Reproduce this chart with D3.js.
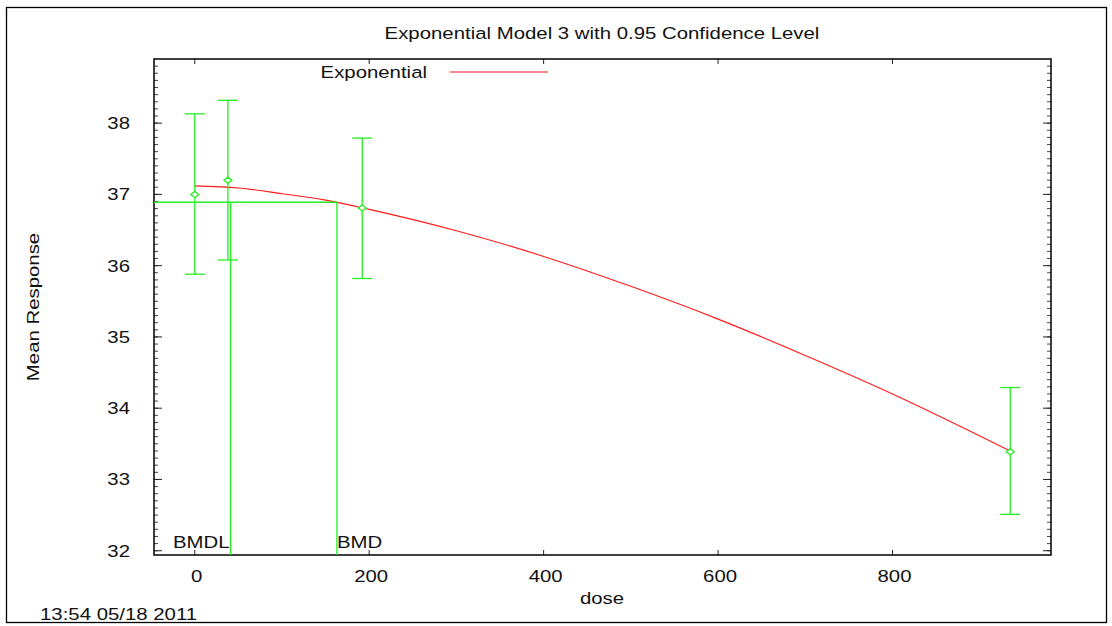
<!DOCTYPE html>
<html>
<head>
<meta charset="utf-8">
<script src="https://cdn.jsdelivr.net/npm/d3@7"></script>
<style>
  body { margin: 0; background: #fff; }
  svg text { font-family: "Liberation Sans", Arial, sans-serif; fill: #111; }
</style>
</head>
<body>
<div id="chart"></div>
<script>
// observed data (dose, mean, lower / upper confidence limits)
const doses = [0, 38, 192, 935];
const means = [37.0, 37.2, 36.81, 33.39];
const lower = [35.88, 36.08, 35.82, 32.51];
const upper = [38.13, 38.32, 37.79, 34.29];

// fitted exponential curve
const curveDose = [0, 50, 100, 150, 200, 300, 400, 500, 600, 700, 800, 935];
const curveMean = [37.12, 37.09, 37.01, 36.92, 36.79, 36.49, 36.13, 35.71, 35.25, 34.74, 34.2, 33.4];

// benchmark dose results
const bmdl = 41;
const bmd = 163;
const bmrLevel = 36.89;

const xTicks = [0, 200, 400, 600, 800];
const yTicks = [32, 33, 34, 35, 36, 37, 38];

const width = 1112, height = 626;
const plot = { left: 154, top: 59, right: 1051, bottom: 555 };
const green = "#22ee22", red = "#ff1a1a";
const stretch = 1.235; // the original text is drawn wide

const svg = d3.select("#chart").append("svg")
    .attr("width", width)
    .attr("height", height);

// text helper: stretched horizontally along the text direction
const label = (px, py, txt, anchor = "start", rot = 0) =>
    svg.append("text")
        .attr("transform", `translate(${px},${py}) rotate(${rot}) scale(${stretch},1)`)
        .attr("text-anchor", anchor)
        .attr("font-size", 16.5)
        .text(txt);

// outer frame
svg.append("rect")
    .attr("x", 6.5).attr("y", 7.5)
    .attr("width", 1100).attr("height", 615)
    .attr("fill", "none").attr("stroke", "#000").attr("stroke-width", 1.3);

const x = d3.scaleLinear().domain([-46.75, 981.75]).range([plot.left, plot.right]);
const y = d3.scaleLinear().domain([31.94, 38.9]).range([plot.bottom, plot.top]);

// minor y ticks every 0.1
const yMinor = d3.range(320, 389).map(d => d / 10);

const tickG = svg.append("g").attr("stroke", "#222").attr("stroke-width", 1);
[plot.left, plot.right].forEach((px, side) => {
    const dir = side === 0 ? 1 : -1;
    tickG.selectAll(null)
        .data(yMinor)
        .join("line")
        .attr("x1", px).attr("x2", px + dir * 4)
        .attr("y1", d => y(d)).attr("y2", d => y(d))
        .attr("stroke", "#444");
    tickG.selectAll(null)
        .data(yTicks)
        .join("line")
        .attr("x1", px).attr("x2", px + dir * 8)
        .attr("y1", d => y(d)).attr("y2", d => y(d));
});
[plot.bottom, plot.top].forEach((py, side) => {
    const dir = side === 0 ? -1 : 1;
    tickG.selectAll(null)
        .data(xTicks)
        .join("line")
        .attr("x1", d => x(d)).attr("x2", d => x(d))
        .attr("y1", py).attr("y2", py + dir * 5);
});

// tick labels
xTicks.forEach(d => label(x(d) + 2, plot.bottom + 27, d3.format("d")(d), "middle"));
yTicks.forEach(d => label(plot.left - 24, y(d) + 6, d3.format("d")(d), "end"));

// plot border
svg.append("rect")
    .attr("x", plot.left).attr("y", plot.top)
    .attr("width", plot.right - plot.left).attr("height", plot.bottom - plot.top)
    .attr("fill", "none").attr("stroke", "#000").attr("stroke-width", 1.5);

// fitted curve
const line = d3.line()
    .x((d, i) => x(curveDose[i]))
    .y(d => y(d))
    .curve(d3.curveMonotoneX);
svg.append("path")
    .datum(curveMean)
    .attr("d", line)
    .attr("fill", "none")
    .attr("stroke", red)
    .attr("stroke-width", 1.1);

// BMD / BMDL lines
const bm = svg.append("g").attr("stroke", green).attr("stroke-width", 1.3);
bm.append("line")
    .attr("x1", plot.left).attr("x2", x(bmd))
    .attr("y1", y(bmrLevel)).attr("y2", y(bmrLevel));
bm.append("line")
    .attr("x1", x(bmd)).attr("x2", x(bmd))
    .attr("y1", y(bmrLevel)).attr("y2", plot.bottom);
bm.append("line")
    .attr("x1", x(bmdl)).attr("x2", x(bmdl))
    .attr("y1", y(bmrLevel)).attr("y2", plot.bottom);

// error bars
const eb = svg.append("g").attr("stroke", green).attr("stroke-width", 1.3).attr("fill", "none");
doses.forEach((d, i) => {
    const cx = x(d);
    eb.append("line").attr("x1", cx).attr("x2", cx).attr("y1", y(lower[i])).attr("y2", y(upper[i]));
    eb.append("line").attr("x1", cx - 10).attr("x2", cx + 10).attr("y1", y(lower[i])).attr("y2", y(lower[i]));
    eb.append("line").attr("x1", cx - 10).attr("x2", cx + 10).attr("y1", y(upper[i])).attr("y2", y(upper[i]));
    const cy = y(means[i]);
    eb.append("path")
        .attr("d", `M${cx - 4},${cy}L${cx},${cy - 3}L${cx + 4},${cy}L${cx},${cy + 3}Z`)
        .attr("fill", "#fff");
});

// BMD labels
label(x(bmdl) - 1, plot.bottom - 7, "BMDL", "end");
label(x(bmd), plot.bottom - 7, "BMD");

// legend
label(427, 78, "Exponential", "end");
svg.append("line")
    .attr("x1", 450).attr("x2", 548).attr("y1", 72).attr("y2", 72)
    .attr("stroke", red).attr("stroke-width", 1.1);

// titles
label(602, 39, "Exponential Model 3 with 0.95 Confidence Level", "middle");
label(602, 604, "dose", "middle");
label(39, 307, "Mean Response", "middle", -90);
label(40, 620, "13:54 05/18 2011");
</script>
</body>
</html>
